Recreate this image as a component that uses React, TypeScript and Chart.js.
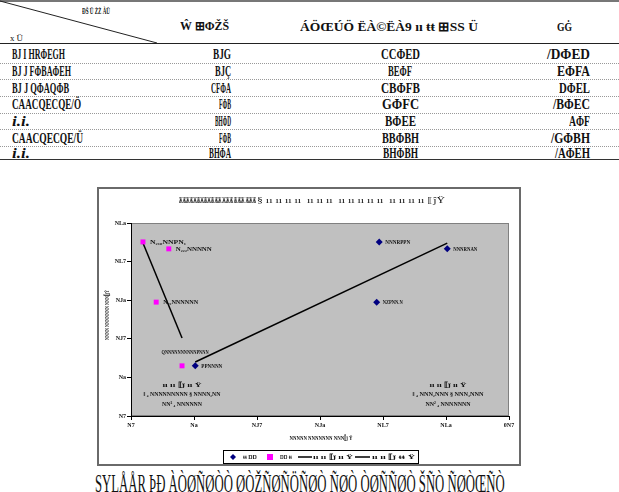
import React, { useEffect, useRef } from "react";
import { Chart, registerables } from "chart.js";
Chart.register(...registerables);

// ---------- table text ----------
const headerCorner = "ƉŠ Ü ŻŻ ÀŪ";
const headerRowLabel = "x Ü";
const headerCols = ["Ŵ ⊞ΦŽŠ", "ÁÖŒÚÖ ËÀ©ËÀ9 ıı ŧŧ ⊞SS Ü", "GĠ"];
const rowNames = ["BJ I HRΦEGH", "BJ J FΦBAΦEH", "BJ J QΦAQΦB", "CAACQECQE/Ö", "i.i.", "CAACQECQE/Ü", "i.i."];
const col2Values = ["BJG", "BJÇ", "CFΦA", "FΦB", "BHΦD", "FΦB", "BHΦA"];
const col3Values = ["CCΦED", "BEΦF", "CBΦFB", "GΦFC", "BΦEE", "BBΦBH", "BHΦBH"];
const col4Values = ["/DΦED", "EΦFA", "DΦEL", "/BΦEC", "AΦF", "/GΦBH", "/AΦEH"];
const captionText = "SYLÅÅR  ÞÐ  ÀÒØÑØÒÒ  ØÒŽÑØÑÖÑØÒ  ÑØÒ  ÒØÑÑØÒ  ŠÑÒ  ÑØÒŒÑÒ";

// ---------- chart data ----------
const blueX = [3.94, 5.02, 3.9, 1.02];
const blueY = [4.51, 4.33, 2.95, 1.3];
const pinkX = [0.19, 0.6, 0.4, 0.81];
const pinkY = [4.51, 4.33, 2.95, 1.3];
const blueTrendX = [1.02, 5.02];
const blueTrendY = [1.4, 4.48];
const pinkTrendX = [0.19, 0.81];
const pinkTrendY = [4.48, 2.02];
const xTickLabels = ["N7", "Na", "NJ7", "NJa", "NL7", "NLa", "0N7"];
const yTickLabels = ["N7", "Na", "NJ7", "NJa", "NL7", "NLa"];
const blueLabels = ["NNNRPPN", "NNNRNAN", "NZPNN.N", "PPNNNN"];
const pinkLabels = ["N₂₁₀NNPN₁", "N₂₂₂NNNNN", "N₂₂NNNNNN", "QNNNNNNNNNNPNNN"];
const seriesNames = ["ŧŧ ŊŊ", "ŊŊ ŧŧ", "ıı ıı ⟦ĵ ıı Ÿ", "ıı ıı ⟦ĵ ŧŧ Ÿ"];
const titleBold = "ЖЖЖЖЖЖЖЖЖЖЖЖ ЖЖЖ ЖЖЖ ЖЖЖ";
const titleLight = "§ ıı ıı ıı ıı  ıı ıı ıı  ıı ıı ıı ıı ıı  ıı ıı ıı ıı ⟦ĵŸ";
const xTitle = "NNNNN NNNNNNN NNN⟦ĵ Ÿ";
const yTitle = "NNNN NNNNNNN NNN⟦ĵŸ";
const eqLeft = ["ıı ıı ⟦ĵ ıı Ÿ", "ǁ ₄ NNNNNNNNN § NNNN₂NN", "NN² ₄ NNNNNN"];
const eqRight = ["ıı ıı ⟦ĵ ıı Ÿ", "ǁ ₄ NNN₂NNN § NNN₂NNN", "NN² ₄ NNNNNNN"];

const FAM = '"Liberation Serif"';
let measureCtx: CanvasRenderingContext2D | null = null;
function measure(text: string, font: string) {
  if (!measureCtx) measureCtx = document.createElement("canvas").getContext("2d");
  measureCtx!.font = font;
  return measureCtx!.measureText(text).width || 1;
}

function Fit(props: any) {
  const { x, y, w, text, size, weight = "bold", italic = false, align = "left", color = "#111" } = props;
  const font = `${italic ? "italic " : ""}${weight} ${size}px ${FAM}`;
  const m = measure(text, font);
  const sx = w / m;
  const left = align === "left" ? x : align === "center" ? x - w / 2 : x - w;
  return (
    <span
      style={{
        position: "absolute",
        left,
        top: y - size / 2,
        fontFamily: FAM,
        fontSize: size,
        fontWeight: weight,
        fontStyle: italic ? "italic" : "normal",
        lineHeight: `${size}px`,
        whiteSpace: "nowrap",
        transform: `scaleX(${sx})`,
        transformOrigin: "0 0",
        color,
      }}
    >
      {text}
    </span>
  );
}

function fitText(ctx: CanvasRenderingContext2D, text: string, x: number, y: number, w: number, size: number, align = "left", weight = "bold") {
  ctx.save();
  ctx.font = `${weight} ${size}px ${FAM}`;
  const m = ctx.measureText(text).width || 1;
  const sx = w / m;
  const left = align === "left" ? x : align === "center" ? x - w / 2 : x - w;
  ctx.translate(left, y);
  ctx.scale(sx, 1);
  ctx.textAlign = "left";
  ctx.textBaseline = "middle";
  ctx.fillStyle = "#111";
  ctx.fillText(text, 0, 0);
  ctx.restore();
}

const rowY = [54, 71, 88, 104, 121, 138, 153];
const sepY = [63, 79, 96, 113, 129, 146];
const col1W = [53, 59, 57, 69, 18, 71, 18];
const col2W = [18, 16, 20, 12, 16, 12, 22];
const col3W = [39, 24, 39, 37, 31, 37, 35];
const col4W = [43, 33, 31, 37, 21, 39, 35];

const blueLabelW = [25, 24, 20, 21];
const pinkLabelW = [36, 36, 35, 47];

const overlay = {
  id: "overlay",
  beforeDraw(chart: any) {
    const { ctx, chartArea: a } = chart;
    ctx.save();
    ctx.fillStyle = "#C0C0C0";
    ctx.fillRect(a.left, a.top, a.right - a.left, a.bottom - a.top);
    ctx.strokeStyle = "#808080";
    ctx.lineWidth = 1;
    ctx.strokeRect(a.left + 0.5, a.top + 0.5, a.right - a.left - 1, a.bottom - a.top - 1);
    ctx.restore();
  },
  afterDraw(chart: any) {
    const ctx: CanvasRenderingContext2D = chart.ctx;
    // title
    fitText(ctx, titleBold, 80, 12, 77, 8);
    fitText(ctx, titleLight, 158, 12, 188, 8, "left", "normal");
    // axis titles
    fitText(ctx, xTitle, 222, 249, 63, 7, "center");
    ctx.save();
    ctx.translate(8, 126);
    ctx.rotate(-Math.PI / 2);
    fitText(ctx, yTitle, 0, 0, 50, 7, "center");
    ctx.restore();
    // point labels
    const mb = chart.getDatasetMeta(0).data;
    const mp = chart.getDatasetMeta(1).data;
    mb.forEach((p: any, i: number) => {
      fitText(ctx, blueLabels[i], p.x + 6, p.y, blueLabelW[i], 7);
    });
    mp.forEach((p: any, i: number) => {
      if (i === 3) fitText(ctx, pinkLabels[i], p.x + 3, p.y - 14, pinkLabelW[i], 7, "center");
      else fitText(ctx, pinkLabels[i], p.x + 7, p.y, pinkLabelW[i], 7);
    });
    // regression equations
    const eqW = [39, 77, 40];
    const eqWR = [37, 71, 45];
    const eqYs = [196, 205, 215];
    eqLeft.forEach((t, i) => fitText(ctx, t, 83, eqYs[i], eqW[i], 7, "center"));
    eqRight.forEach((t, i) => fitText(ctx, t, 349, eqYs[i], eqWR[i], 7, "center"));
    // legend
    ctx.save();
    ctx.strokeStyle = "#000";
    ctx.lineWidth = 1;
    ctx.strokeRect(124.5, 261.5, 195, 13);
    const ly = 268;
    ctx.fillStyle = "#000080";
    ctx.beginPath();
    ctx.moveTo(134, ly - 3);
    ctx.lineTo(137, ly);
    ctx.lineTo(134, ly + 3);
    ctx.lineTo(131, ly);
    ctx.closePath();
    ctx.fill();
    ctx.fillStyle = "#FF00FF";
    ctx.fillRect(168, ly - 3, 6, 6);
    ctx.strokeStyle = "#000";
    ctx.lineWidth = 1.5;
    ctx.beginPath();
    ctx.moveTo(199, ly);
    ctx.lineTo(213, ly);
    ctx.moveTo(256, ly);
    ctx.lineTo(271, ly);
    ctx.stroke();
    ctx.restore();
    fitText(ctx, seriesNames[0], 144, ly, 14, 7);
    fitText(ctx, seriesNames[1], 181, ly, 12, 7);
    fitText(ctx, seriesNames[2], 214, ly, 40, 7);
    fitText(ctx, seriesNames[3], 273, ly, 43, 7);
  },
};

function ChartBox() {
  const ref = useRef<HTMLCanvasElement>(null);
  useEffect(() => {
    const canvas = ref.current!;
    const tickFont = { family: FAM, size: 6, weight: "bold" as const };
    const chart = new Chart(canvas, {
      type: "scatter",
      data: {
        datasets: [
          {
            label: seriesNames[0],
            data: blueX.map((x, i) => ({ x, y: blueY[i] })),
            pointStyle: "rectRot",
            pointRadius: 3.5,
            backgroundColor: "#000080",
            borderColor: "#000080",
            borderWidth: 0,
          },
          {
            label: seriesNames[1],
            data: pinkX.map((x, i) => ({ x, y: pinkY[i] })),
            pointStyle: "rect",
            pointRadius: 3.5,
            backgroundColor: "#FF00FF",
            borderColor: "#FF00FF",
            borderWidth: 0,
          },
          {
            label: seriesNames[2],
            data: blueTrendX.map((x, i) => ({ x, y: blueTrendY[i] })),
            showLine: true,
            pointRadius: 0,
            borderColor: "#000",
            borderWidth: 1.5,
          },
          {
            label: seriesNames[3],
            data: pinkTrendX.map((x, i) => ({ x, y: pinkTrendY[i] })),
            showLine: true,
            pointRadius: 0,
            borderColor: "#000",
            borderWidth: 1.5,
          },
        ],
      },
      options: {
        responsive: false,
        animation: false,
        layout: { padding: { top: 34, right: 10, left: 0, bottom: 0 } },
        plugins: { legend: { display: false }, title: { display: false }, tooltip: { enabled: false } },
        scales: {
          x: {
            type: "linear",
            min: 0,
            max: 6,
            ticks: { stepSize: 1, font: tickFont, color: "#111", padding: 2, maxRotation: 0, callback: (v: any) => xTickLabels[Math.round(v)] },
            grid: { drawOnChartArea: false, tickLength: 4, color: "#000" },
            border: { color: "#000" },
            afterFit: (s: any) => {
              s.height = 48;
            },
          },
          y: {
            type: "linear",
            min: 0,
            max: 5,
            ticks: { stepSize: 1, font: tickFont, color: "#111", padding: 1, callback: (v: any) => yTickLabels[Math.round(v)] },
            grid: { drawOnChartArea: false, tickLength: 4, color: "#000" },
            border: { color: "#000" },
            afterFit: (s: any) => {
              s.width = 32;
            },
          },
        },
      } as any,
      plugins: [overlay],
    });
    return () => chart.destroy();
  }, []);
  return (
    <div
      style={{
        position: "absolute",
        left: 97,
        top: 187,
        width: 424,
        height: 279,
        border: "2px solid #6a6a6a",
        boxSizing: "border-box",
        background: "#fff",
      }}
    >
      <canvas ref={ref} width={420} height={275} style={{ display: "block", width: 420, height: 275 }} />
    </div>
  );
}

export default function App() {
  return (
    <div style={{ position: "absolute", left: 0, top: 0, width: 619, height: 492, background: "#fff", overflow: "hidden" }}>
      {/* table rules */}
      <div style={{ position: "absolute", left: 0, top: 0, width: 619, height: 2, background: "#777" }} />
      <svg style={{ position: "absolute", left: 0, top: 0 }} width={619} height={170}>
        <line x1={0} y1={1} x2={157} y2={43} stroke="#222" strokeWidth={1} />
        <line x1={0} y1={43.5} x2={619} y2={43.5} stroke="#222" strokeWidth={1} />
        {sepY.map((y, i) => (
          <line key={i} x1={0} y1={y + 0.5} x2={619} y2={y + 0.5} stroke="#999" strokeWidth={1} strokeDasharray="1 1" />
        ))}
        <line x1={0} y1={159.5} x2={619} y2={159.5} stroke="#333" strokeWidth={1} />
      </svg>
      <Fit x={82} y={11} w={28} text={headerCorner} size={9} />
      <Fit x={10} y={38} w={13} text={headerRowLabel} size={9} weight="normal" />
      <Fit x={180} y={26} w={49} text={headerCols[0]} size={12} />
      <Fit x={300} y={26} w={178} text={headerCols[1]} size={13} />
      <Fit x={557} y={26} w={15} text={headerCols[2]} size={13} />
      {rowNames.map((t, i) => (
        <Fit key={"a" + i} x={12} y={rowY[i]} w={col1W[i]} text={t} size={15} italic={t === "i.i."} />
      ))}
      {col2Values.map((t, i) => (
        <Fit key={"b" + i} x={231} y={rowY[i]} w={col2W[i]} text={t} size={15} align="right" />
      ))}
      {col3Values.map((t, i) => (
        <Fit key={"c" + i} x={400} y={rowY[i]} w={col3W[i]} text={t} size={15} align="center" />
      ))}
      {col4Values.map((t, i) => (
        <Fit key={"d" + i} x={590} y={rowY[i]} w={col4W[i]} text={t} size={15} align="right" />
      ))}
      <ChartBox />
      <Fit x={95} y={484} w={432} text={captionText} size={26} weight="normal" />
    </div>
  );
}
